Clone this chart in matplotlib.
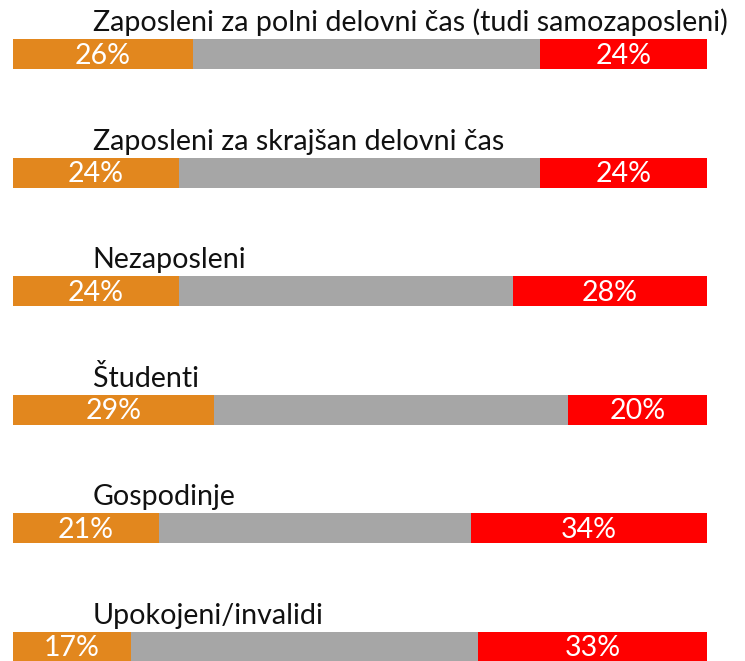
import matplotlib
matplotlib.use("Agg")
import matplotlib.pyplot as plt
import numpy as np

groups = ["Zaposleni za polni delovni čas (tudi samozaposleni)",
          "Zaposleni za skrajšan delovni čas",
          "Nezaposleni",
          "Študenti",
          "Gospodinje",
          "Upokojeni/invalidi"]
low = [26, 24, 24, 29, 21, 17]
high = [24, 24, 28, 20, 34, 33]
mid = [100 - a - b for a, b in zip(low, high)]

c_low = "#E2871E"
c_mid = "#A6A6A6"
c_high = "#FF0000"

plt.rcParams['font.family'] = ['Lato', 'DejaVu Sans']

fig = plt.figure(figsize=(7.45, 6.61), dpi=100)
ax = fig.add_axes([0, 0, 1, 1])

y = np.arange(len(groups))
h = 0.253
ax.barh(y, low, height=h, color=c_low)
ax.barh(y, mid, left=low, height=h, color=c_mid)
ax.barh(y, high, left=np.array(low) + np.array(mid), height=h, color=c_high)

for i in range(len(groups)):
    ax.text(11.5, y[i] - h / 2 - 0.065, groups[i], fontsize=20.6,
            va="baseline", ha="left", color="#111111")
    ax.text(low[i] / 2, y[i] + 0.015, f"{low[i]}%", fontsize=20.5,
            ha="center", va="center", color="white")
    ax.text(100 - high[i] / 2, y[i] + 0.015, f"{high[i]}%", fontsize=20.5,
            ha="center", va="center", color="white")

ax.set_xlim(-1.83, 105.47)
ax.set_ylim(5.122, -0.456)
ax.axis("off")

fig.savefig("out.png", dpi=100)
